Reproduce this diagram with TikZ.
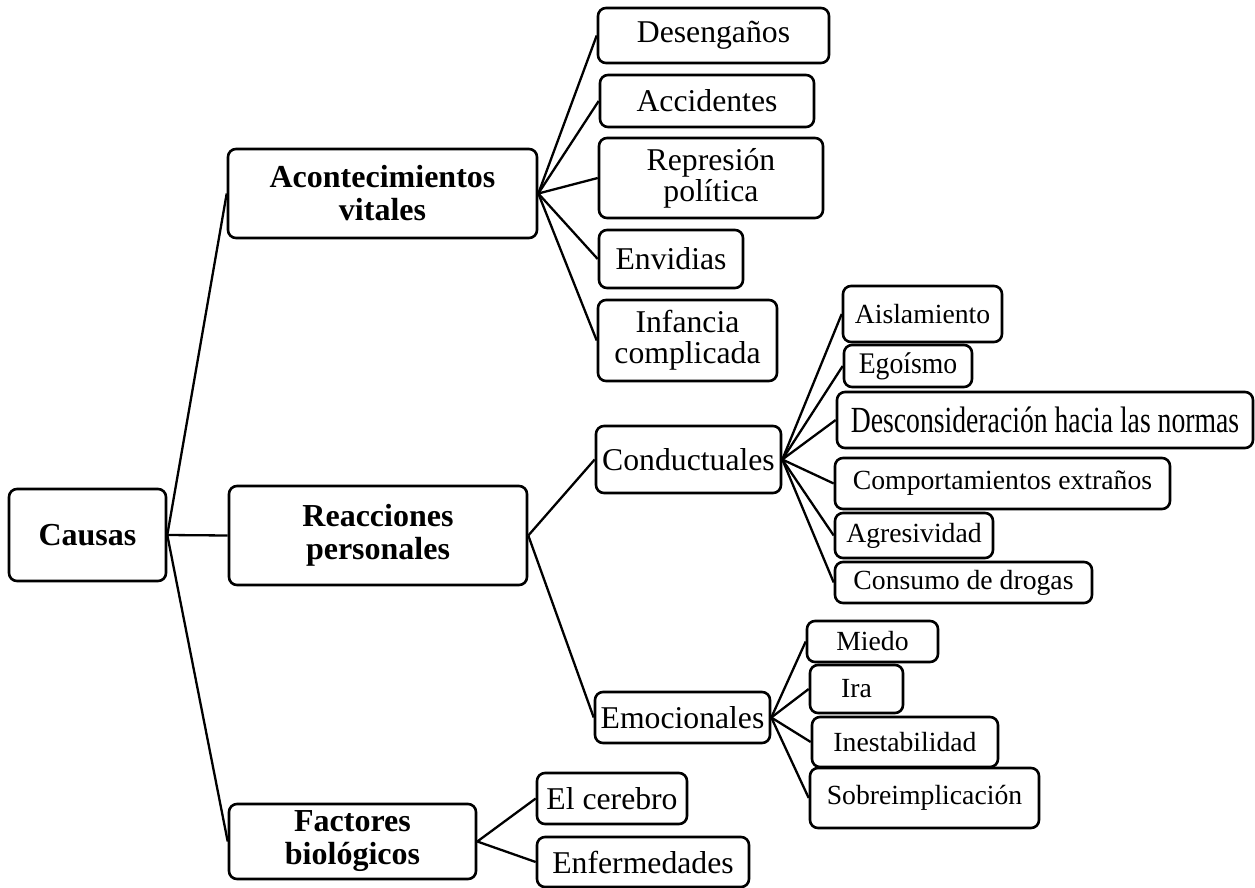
\documentclass[tikz,border=0pt]{standalone}
\usepackage{fontspec}
\setmainfont{Liberation Serif}
\begin{document}
\begin{tikzpicture}[x=1pt,y=-1pt,
  box/.style={draw, line width=2.6pt, rounded corners=8pt, inner sep=0pt, align=center},
  lvla/.style={box, font=\fontsize{32}{33}\selectfont\bfseries},
  lvlb/.style={box, font=\fontsize{31.7}{31}\selectfont},
  lvlc/.style={box, font=\fontsize{27.7}{30}\selectfont},
  link/.style={line width=2.3pt}]
\useasboundingbox (0,0) rectangle (1255,888);
% \boxnode{style}{name}{x1}{y1}{x2}{y2}{text}
\newcommand{\boxnode}[7]{%
  \node[#1, minimum width={#5-#3}, minimum height={#6-#4}] (#2)
    at ({(#3+#5)/2},{(#4+#6)/2}) {#7};}

% root and first level
\boxnode{lvla}{causas}{9}{489}{166}{581}{Causas}
\boxnode{lvla}{acon}{228}{149}{537}{238}{Acontecimientos\\vitales}
\boxnode{lvla}{reac}{229}{486}{527}{585}{Reacciones\\personales}
\boxnode{lvla}{fact}{229}{804}{476}{879}{Factores\\biológicos}

% life events
\boxnode{lvlb}{deseng}{598}{8}{829}{63}{Desengaños}
\boxnode{lvlb}{accid}{600}{75}{814}{127}{Accidentes}
\boxnode{lvlb}{repres}{599}{138}{823}{218}{Represión\\política}
\boxnode{lvlb}{envid}{599}{230}{743}{288}{Envidias}
\boxnode{lvlb}{infan}{598}{300}{777}{381}{Infancia\\complicada}

% personal reactions
\boxnode{lvlb}{cond}{596}{426}{781}{493}{Conductuales}
\boxnode{lvlb}{emoc}{595}{692}{770}{743}{Emocionales}

% behavioural
\boxnode{lvlc}{aisl}{843}{286}{1002}{342}{Aislamiento}
\boxnode{lvlc}{ego}{844}{345}{972}{387}{\scalebox{1}[1.08]{Egoísmo}}
\boxnode{lvlc}{descon}{837}{392}{1253}{448}{\scalebox{1}[1.33]{Desconsideración hacia las normas}}
\boxnode{lvlc}{compor}{835}{458}{1170}{509}{Comportamientos extraños}
\boxnode{lvlc}{agres}{835}{513}{993}{558}{Agresividad}
\boxnode{lvlc}{consumo}{835}{562}{1092}{603}{Consumo de drogas}

% emotional
\boxnode{lvlc}{miedo}{807}{621}{938}{662}{Miedo}
\boxnode{lvlc}{ira}{810}{665}{903}{713}{Ira}
\boxnode{lvlc}{inest}{812}{717}{998}{767}{Inestabilidad}
\boxnode{lvlc}{sobre}{810}{768}{1039}{828}{Sobreimplicación}

% biological factors
\boxnode{lvlb}{cere}{537}{773}{687}{824}{El cerebro}
\boxnode{lvlb}{enfer}{537}{837}{749}{887}{Enfermedades}

% connectors
\foreach \c in {acon,reac,fact} \draw[link] (causas.east) -- (\c.west);
\foreach \c in {deseng,accid,repres,envid,infan} \draw[link] (acon.east) -- (\c.west);
\foreach \c in {cond,emoc} \draw[link] (reac.east) -- (\c.west);
\foreach \c in {aisl,ego,descon,compor,agres,consumo} \draw[link] (cond.east) -- (\c.west);
\foreach \c in {miedo,ira,inest,sobre} \draw[link] (emoc.east) -- (\c.west);
\foreach \c in {cere,enfer} \draw[link] (fact.east) -- (\c.west);
\end{tikzpicture}
\end{document}
